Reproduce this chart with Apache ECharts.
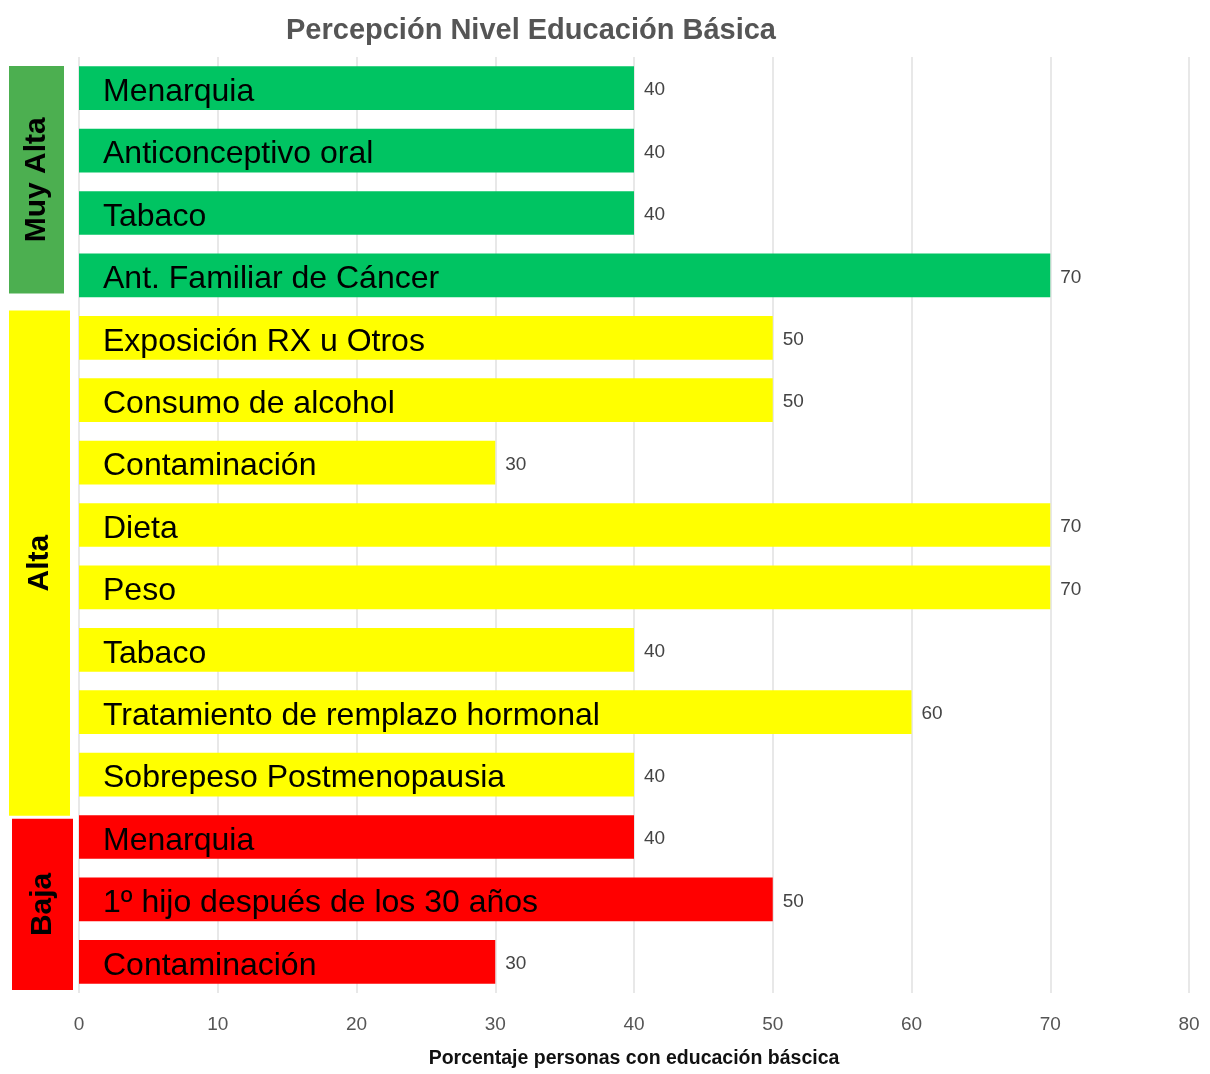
<!DOCTYPE html>
<html>
<head>
<meta charset="utf-8">
<script src="https://cdn.jsdelivr.net/npm/echarts@6/dist/echarts.min.js"></script>
<style>
  html, body { margin: 0; padding: 0; background: #fff; }
  #main { width: 1210px; height: 1074px; }
</style>
</head>
<body>
<div id="main"></div>
<script>
var categories = ['Menarquia', 'Anticonceptivo oral', 'Tabaco', 'Ant. Familiar de Cáncer',
  'Exposición RX u Otros', 'Consumo de alcohol', 'Contaminación', 'Dieta', 'Peso', 'Tabaco',
  'Tratamiento de remplazo hormonal', 'Sobrepeso Postmenopausia',
  'Menarquia', '1º hijo después de los 30 años', 'Contaminación'];
var values = [40, 40, 40, 70, 50, 50, 30, 70, 70, 40, 60, 40, 40, 50, 30];
var levels = ['Muy Alta', 'Muy Alta', 'Muy Alta', 'Muy Alta',
  'Alta', 'Alta', 'Alta', 'Alta', 'Alta', 'Alta', 'Alta', 'Alta',
  'Baja', 'Baja', 'Baja'];
var groupNames = ['Muy Alta', 'Alta', 'Baja'];
var barColors = { 'Muy Alta': '#00c462', 'Alta': '#ffff00', 'Baja': '#ff0000' };
var boxColors = { 'Muy Alta': '#4caf50', 'Alta': '#ffff00', 'Baja': '#ff0000' };
// box look: [x, width, top inset, bottom inset] relative to the group's band
var boxStyle = {
  'Muy Alta': [9, 55, 9, -13],
  'Alta': [9, 61, 4, 10],
  'Baja': [12, 61, 13, -3]
};

var sans = 'Arial, "Liberation Sans", sans-serif';

var barData = values.map(function (v, i) {
  return { value: v, itemStyle: { color: barColors[levels[i]] } };
});

var chart = echarts.init(document.getElementById('main'));
var option = {
  backgroundColor: '#fff',
  animation: false,
  title: {
    text: 'Percepción Nivel Educación Básica',
    left: 281,
    top: 11,
    textStyle: { fontFamily: sans, fontSize: 29, fontWeight: 'bold', color: '#555' }
  },
  grid: { left: 79, right: 21, top: 57, bottom: 76 },
  xAxis: {
    type: 'value',
    min: 0,
    max: 80,
    interval: 10,
    name: 'Porcentaje personas con educación báscica',
    nameLocation: 'middle',
    nameGap: 56,
    nameTextStyle: { fontFamily: sans, fontSize: 19.5, fontWeight: 'bold', color: '#111' },
    axisLine: { show: false },
    axisTick: { show: false },
    axisLabel: { fontFamily: sans, fontSize: 19, color: '#555', margin: 22 },
    splitLine: { lineStyle: { color: '#e8e8e8', width: 2 } }
  },
  yAxis: {
    type: 'category',
    data: categories,
    inverse: true,
    axisLine: { show: false },
    axisTick: { show: false },
    axisLabel: { show: false }
  },
  series: [
    {
      type: 'bar',
      data: barData,
      barCategoryGap: '30%',
      label: {
        show: true,
        position: 'insideLeft',
        distance: 24,
        offset: [0, 4],
        formatter: '{b}',
        fontFamily: sans,
        fontSize: 32,
        color: '#000'
      }
    },
    {
      type: 'bar',
      data: values,
      barGap: '-100%',
      barCategoryGap: '30%',
      itemStyle: { color: 'rgba(0,0,0,0)' },
      label: {
        show: true,
        position: 'right',
        distance: 10,
        offset: [0, 2],
        fontFamily: sans,
        fontSize: 19,
        color: '#444'
      }
    }
  ]
};
chart.setOption(option);

// level boxes on the left, placed from the category axis
var graphics = [];
var band = chart.convertToPixel({ yAxisIndex: 0 }, 1) - chart.convertToPixel({ yAxisIndex: 0 }, 0);
groupNames.forEach(function (g) {
  var s = boxStyle[g];
  var first = levels.indexOf(g);
  var last = levels.lastIndexOf(g);
  var top = chart.convertToPixel({ yAxisIndex: 0 }, first) - band / 2 + s[2];
  var bottom = chart.convertToPixel({ yAxisIndex: 0 }, last) + band / 2 + s[3];
  graphics.push({
    type: 'rect',
    shape: { x: s[0], y: top, width: s[1], height: bottom - top },
    style: { fill: boxColors[g] }
  });
  graphics.push({
    type: 'text',
    x: s[0] + s[1] / 2,
    y: (top + bottom) / 2,
    rotation: Math.PI / 2,
    style: {
      text: g,
      fontFamily: sans,
      fontSize: 30,
      fontWeight: 'bold',
      fill: '#000',
      align: 'center',
      verticalAlign: 'middle'
    }
  });
});
chart.setOption({ graphic: graphics });
</script>
</body>
</html>
